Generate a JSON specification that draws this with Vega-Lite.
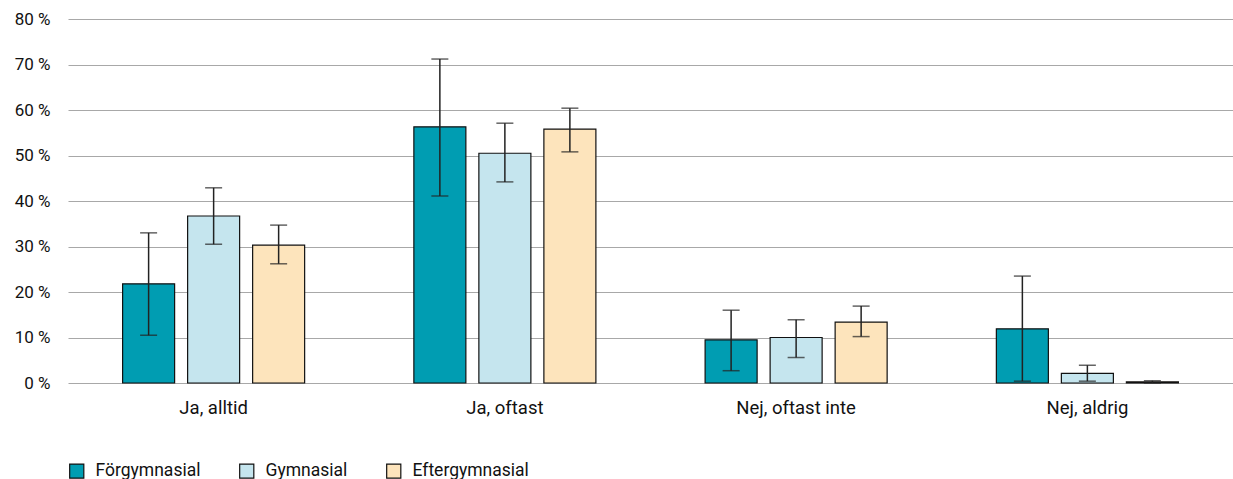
{
  "$schema": "https://vega.github.io/schema/vega-lite/v6.json",
  "width": 1165,
  "height": 364,
  "autosize": {"type": "none"},
  "padding": {"left": 68, "top": 19, "right": 0, "bottom": 96},
  "config": {
    "font": "Roboto",
    "view": {"stroke": null},
    "axis": {"labelColor": "#222", "labelFont": "Roboto"}
  },
  "data": {
    "values": [
      {"cat": "Ja, alltid", "grp": "Förgymnasial", "v": 21.8, "lo": 10.5, "hi": 33.0},
      {"cat": "Ja, alltid", "grp": "Gymnasial", "v": 36.7, "lo": 30.5, "hi": 42.9},
      {"cat": "Ja, alltid", "grp": "Eftergymnasial", "v": 30.3, "lo": 26.2, "hi": 34.7},
      {"cat": "Ja, oftast", "grp": "Förgymnasial", "v": 56.3, "lo": 41.1, "hi": 71.2},
      {"cat": "Ja, oftast", "grp": "Gymnasial", "v": 50.5, "lo": 44.2, "hi": 57.1},
      {"cat": "Ja, oftast", "grp": "Eftergymnasial", "v": 55.8, "lo": 50.8, "hi": 60.4},
      {"cat": "Nej, oftast inte", "grp": "Förgymnasial", "v": 9.5, "lo": 2.7, "hi": 16.0},
      {"cat": "Nej, oftast inte", "grp": "Gymnasial", "v": 10.0, "lo": 5.6, "hi": 13.9},
      {"cat": "Nej, oftast inte", "grp": "Eftergymnasial", "v": 13.4, "lo": 10.2, "hi": 16.9},
      {"cat": "Nej, aldrig", "grp": "Förgymnasial", "v": 11.9, "lo": 0.4, "hi": 23.5},
      {"cat": "Nej, aldrig", "grp": "Gymnasial", "v": 2.1, "lo": 0.4, "hi": 3.9},
      {"cat": "Nej, aldrig", "grp": "Eftergymnasial", "v": 0.25, "lo": 0.0, "hi": 0.5}
    ]
  },
  "encoding": {
    "x": {
      "field": "cat", "type": "nominal",
      "sort": ["Ja, alltid", "Ja, oftast", "Nej, oftast inte", "Nej, aldrig"],
      "scale": {"paddingInner": 0.375, "paddingOuter": 0.1875},
      "axis": {"title": null, "labelAngle": 0, "ticks": false, "domain": false, "labelFontSize": 18.5, "labelPadding": 15, "labelColor": "#111"}
    },
    "xOffset": {
      "field": "grp", "type": "nominal",
      "sort": ["Förgymnasial", "Gymnasial", "Eftergymnasial"],
      "scale": {"paddingInner": 0.2, "paddingOuter": 0}
    }
  },
  "layer": [
    {
      "mark": {"type": "bar", "stroke": "#111", "strokeWidth": 1.2},
      "encoding": {
        "y": {
          "field": "v", "type": "quantitative",
          "scale": {"domain": [0, 80], "nice": false},
          "axis": {
            "title": null, "values": [0, 10, 20, 30, 40, 50, 60, 70, 80],
            "labelExpr": "datum.value + ' %'",
            "ticks": false, "domain": false, "labelFontSize": 17, "labelPadding": 18,
            "gridColor": "#a8a8a8", "gridWidth": 1.2, "labelColor": "#111"
          }
        },
        "color": {
          "field": "grp", "type": "nominal",
          "sort": ["Förgymnasial", "Gymnasial", "Eftergymnasial"],
          "scale": {"domain": ["Förgymnasial", "Gymnasial", "Eftergymnasial"], "range": ["#009DB2", "#C5E5EE", "#FDE4BC"]},
          "legend": {
            "title": null, "orient": "none", "direction": "horizontal",
            "legendX": 0, "legendY": 443,
            "symbolType": "square", "symbolSize": 200, "symbolStrokeColor": "#111", "symbolStrokeWidth": 1.2,
            "symbolOpacity": 1,
            "labelFontSize": 17.5, "labelColor": "#111", "columnPadding": 36, "labelOffset": 10
          }
        }
      }
    },
    {
      "mark": {"type": "rule", "color": "#222", "strokeWidth": 1.5},
      "encoding": {
        "y": {"field": "lo", "type": "quantitative"},
        "y2": {"field": "hi"}
      }
    },
    {
      "mark": {"type": "tick", "color": "#222", "thickness": 1.5, "size": 17, "orient": "horizontal"},
      "encoding": {"y": {"field": "lo", "type": "quantitative"}}
    },
    {
      "mark": {"type": "tick", "color": "#222", "thickness": 1.5, "size": 17, "orient": "horizontal"},
      "encoding": {"y": {"field": "hi", "type": "quantitative"}}
    }
  ]
}
